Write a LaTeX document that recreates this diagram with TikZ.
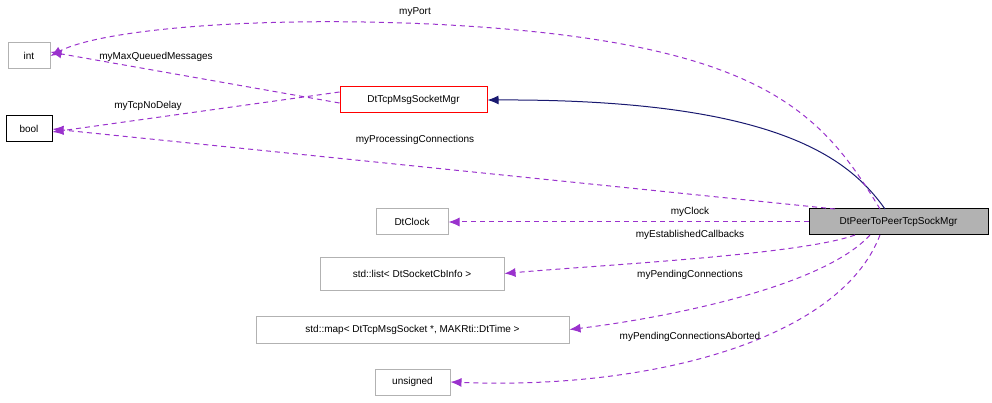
\documentclass[tikz,border=0pt]{standalone}
\usepackage{fontspec}
\setmainfont{Liberation Sans}
\usetikzlibrary{arrows.meta}
\definecolor{dpurp}{HTML}{9A32CD}
\definecolor{dnavy}{HTML}{191970}
\begin{document}
\begin{tikzpicture}[x=1pt,y=-1pt,
 box/.style={draw=black!30,line width=1pt,fill=white,inner sep=0pt,font=\fontsize{10}{11}\selectfont},
 dep/.style={draw=dpurp,line width=1pt,dash pattern=on 5pt off 4pt,-{Latex[length=11,width=9]},fill=none},
 lab/.style={font=\fontsize{10}{11}\selectfont,inner sep=1pt}]
\useasboundingbox (0,0) rectangle (992,403);
\node[box,minimum width=42,minimum height=26] (int) at (29,56) {int};
\node[box,draw=black,minimum width=46,minimum height=26] (bool) at (29,129) {bool};
\node[box,draw=red,minimum width=147,minimum height=26] (mgr) at (413.5,100) {DtTcpMsgSocketMgr};
\node[box,minimum width=72,minimum height=26] (clk) at (412,222) {DtClock};
\node[box,minimum width=184,minimum height=33] (lst) at (412,273.5) {std::list< DtSocketCbInfo >};
\node[box,minimum width=313,minimum height=27] (map) at (412.5,329.5) {std::map< DtTcpMsgSocket *, MAKRti::DtTime >};
\node[box,minimum width=75,minimum height=26] (uns) at (412.5,382) {unsigned};
\node[box,draw=black,fill=black!30,minimum width=179,minimum height=26] (peer) at (898.5,222) {DtPeerToPeerTcpSockMgr};
\coordinate (p1) at (880,209);
\coordinate (p2) at (835,209);
\coordinate (p3) at (855,235);
\coordinate (p4) at (870,235);
\coordinate (p5) at (880,235);
\coordinate (p6) at (885,209);
\draw[draw=dnavy,line width=1pt,-{Latex[length=11,width=9]}] (p6) .. controls (850,160) and (780,99) .. (mgr.east);
\draw[dep] (p1) .. controls (820,110) and (760,40) .. (430,24) .. controls (250,16) and (100,30) .. (int.east);
\draw[dep] ([yshift=-3]mgr.west) -- ([yshift=4]int.east);
\draw[dep] ([yshift=8]mgr.west) -- ([yshift=-3]bool.east);
\draw[dep] (p2) -- (bool.east);
\draw[dep] (peer.west) -- (clk.east);
\draw[dep] (p3) .. controls (800,255) and (600,265) .. (lst.east);
\draw[dep] (p4) .. controls (820,290) and (650,320) .. (map.east);
\draw[dep] (p5) .. controls (840,340) and (650,390) .. (uns.east);
\node[lab] (l1) at (415,12) {myPort};
\node[lab] (l2) at (156,57) {myMaxQueuedMessages};
\node[lab] (l3) at (148,106) {myTcpNoDelay};
\node[lab] (l4) at (415,140) {myProcessingConnections};
\node[lab] (l5) at (690,212) {myClock};
\node[lab] (l6) at (690,235) {myEstablishedCallbacks};
\node[lab] (l7) at (690,275) {myPendingConnections};
\node[lab] (l8) at (690,337) {myPendingConnectionsAborted};
\end{tikzpicture}
\end{document}
